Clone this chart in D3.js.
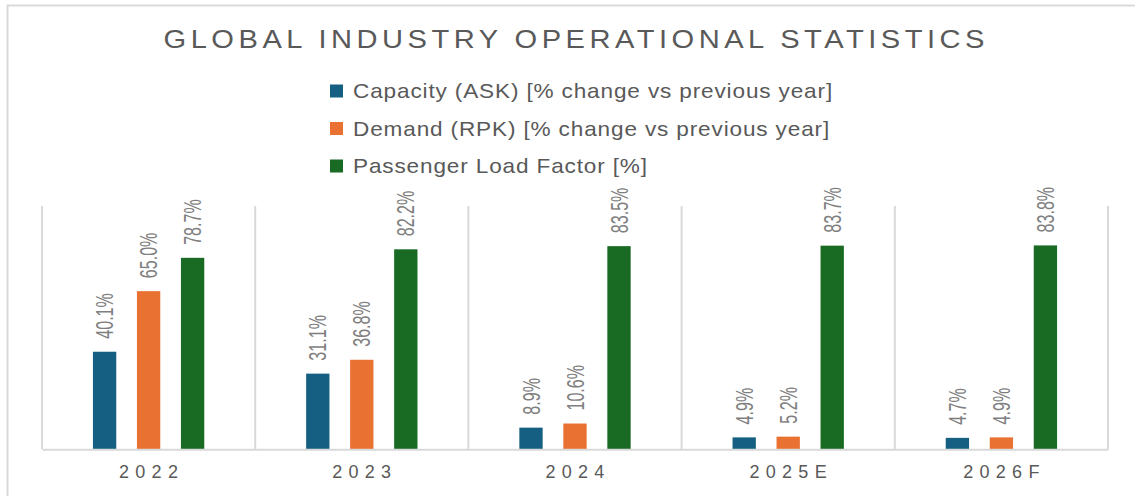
<!DOCTYPE html>
<html>
<head>
<meta charset="utf-8">
<script src="https://cdn.jsdelivr.net/npm/d3@7/dist/d3.min.js"></script>
<style>
  html, body { margin: 0; padding: 0; background: #fff; }
  svg { display: block; }
</style>
</head>
<body>
<svg id="chart" width="1135" height="496"></svg>
<script>
const categories = ["2022", "2023", "2024", "2025E", "2026F"];
const seriesNames = [
  "Capacity (ASK) [% change vs previous year]",
  "Demand (RPK) [% change vs previous year]",
  "Passenger Load Factor [%]"
];
const capacity = [40.1, 31.1, 8.9, 4.9, 4.7];
const demand = [65.0, 36.8, 10.6, 5.2, 4.9];
const loadFactor = [78.7, 82.2, 83.5, 83.7, 83.8];
const colors = ["#156082", "#E97132", "#196B24"];
const title = "GLOBAL INDUSTRY OPERATIONAL STATISTICS";

const seriesValues = [capacity, demand, loadFactor];
const svg = d3.select("#chart");

// outer chart border
svg.append("rect")
  .attr("x", 7.5).attr("y", 5.5)
  .attr("width", 1140).attr("height", 520)
  .attr("fill", "none").attr("stroke", "#d9d9d9").attr("stroke-width", 2);

// title
svg.append("text")
  .attr("transform", "translate(574,47.5) scale(1.12,1)")
  .attr("dx", "2px")
  .attr("text-anchor", "middle")
  .attr("font-family", "Liberation Sans, Arial, sans-serif")
  .attr("font-size", 26)
  .attr("letter-spacing", "4px")
  .attr("fill", "#595959")
  .text(title);

// legend
const legendX = 330, legendY0 = 91, legendStep = 37.5;
const lg = svg.append("g");
seriesNames.forEach((name, i) => {
  const yy = legendY0 + i * legendStep;
  lg.append("rect")
    .attr("x", legendX).attr("y", yy - 6.5)
    .attr("width", 13).attr("height", 13)
    .attr("fill", colors[i]);
  lg.append("text")
    .attr("transform", `translate(${legendX + 23},${yy}) scale(1.13,1)`)
    .attr("dy", "0.36em")
    .attr("font-family", "Liberation Sans, Arial, sans-serif")
    .attr("font-size", 20)
    .attr("letter-spacing", "0.75px")
    .attr("fill", "#595959")
    .text(name);
});

// scales
const pLeft = 42, pRight = 1108, pTop = 206, pBottom = 449.3;
const x0 = d3.scaleBand().domain(categories).range([pLeft, pRight]).padding(0);
const x1 = d3.scaleBand().domain(d3.range(3))
  .range([x0.bandwidth() / 2 - 76.35, x0.bandwidth() / 2 + 76.35]).padding(0.47);
const y = d3.scaleLinear().domain([0, 100]).range([pBottom, pTop]);

// category separators
const seps = categories.map(c => x0(c)).concat([pRight]);
svg.append("g").selectAll("line").data(seps).join("line")
  .attr("x1", d => d).attr("x2", d => d)
  .attr("y1", pTop).attr("y2", pBottom)
  .attr("stroke", "#d9d9d9").attr("stroke-width", 2);

// bars
const data = [];
categories.forEach((c, ci) => {
  seriesValues.forEach((vals, si) => data.push({ c, si, v: vals[ci] }));
});
svg.append("g").selectAll("rect").data(data).join("rect")
  .attr("x", d => x0(d.c) + x1(d.si))
  .attr("y", d => y(d.v))
  .attr("width", x1.bandwidth())
  .attr("height", d => y(0) - y(d.v))
  .attr("fill", d => colors[d.si]);

// baseline axis
const xAxis = d3.axisBottom(x0).tickSize(0).tickPadding(0);
const axisG = svg.append("g").attr("transform", `translate(0,${pBottom})`).call(xAxis);
axisG.select(".domain").attr("stroke", "#d9d9d9").attr("stroke-width", 2);
axisG.selectAll(".tick text")
  .attr("y", 28.8).attr("dy", 0)
  .attr("dx", "3px")
  .attr("font-family", "Liberation Sans, Arial, sans-serif")
  .attr("font-size", 18)
  .attr("letter-spacing", "6.3px")
  .attr("fill", "#595959");

// value labels (rotated)
svg.append("g").selectAll("text").data(data).join("text")
  .attr("transform", d => {
    const cx = x0(d.c) + x1(d.si) + x1.bandwidth() / 2;
    return `translate(${cx},${y(d.v) - 13}) rotate(-90) scale(0.67,1)`;
  })
  .attr("dy", "0.36em")
  .attr("text-anchor", "start")
  .attr("font-family", "Liberation Sans, Arial, sans-serif")
  .attr("font-size", 24)
  .attr("fill", "#7f7f7f")
  .text(d => d.v.toFixed(1) + "%");
</script>
</body>
</html>
